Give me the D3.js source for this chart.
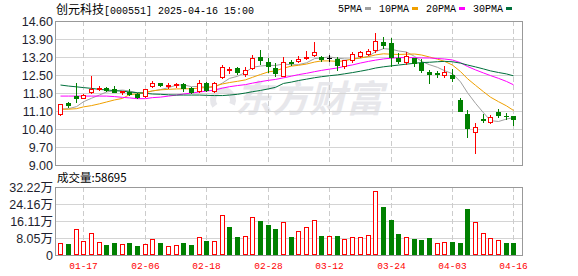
<!DOCTYPE html>
<html><head><meta charset="utf-8">
<script src="https://cdn.jsdelivr.net/npm/d3@7"></script>
<style>html,body{margin:0;padding:0;background:#fff;}svg{display:block}</style>
</head><body><svg id="c" width="578" height="276"></svg>
<script>
// ---------- data ----------
const dates = ["01-14","01-15","01-16","01-17","01-20","01-21","01-22","01-23","01-24","01-27",
"02-05","02-06","02-07","02-10","02-11","02-12","02-13","02-14","02-17","02-18","02-19","02-20","02-21","02-24","02-25","02-26","02-27","02-28",
"03-03","03-04","03-05","03-06","03-07","03-10","03-11","03-12","03-13","03-14","03-17","03-18","03-19","03-20","03-21","03-24","03-25","03-26","03-27","03-28","03-31",
"04-01","04-02","04-03","04-07","04-08","04-09","04-10","04-11","04-14","04-15","04-16"];
const opens  = [10.97,11.40,11.68,11.62,11.85,11.97,12.01,11.96,11.83,11.85,11.77,11.68,12.07,12.19,12.08,12.12,12.15,11.98,11.88,12.19,11.86,12.41,12.70,12.78,12.53,12.76,13.21,13.01,12.76,12.47,13.01,13.06,13.17,13.28,13.19,13.15,13.12,12.84,13.09,13.23,13.32,13.48,13.77,13.76,13.17,13.02,13.15,12.98,12.62,12.57,12.49,12.51,11.53,10.97,10.27,10.77,10.68,11.07,10.92,10.91];
const highs  = [11.38,11.46,12.20,11.75,12.46,12.07,12.05,12.07,11.88,11.94,11.80,11.95,12.27,12.20,12.17,12.20,12.20,12.03,12.31,12.23,12.21,12.89,12.82,12.82,12.82,13.28,13.47,13.15,12.96,13.19,13.08,13.24,13.43,13.79,13.24,13.27,13.19,13.08,13.38,13.43,13.52,14.13,13.97,13.94,13.34,13.38,13.16,13.11,12.71,12.67,12.85,12.72,11.59,11.14,10.65,10.98,10.94,11.18,11.04,10.91];
const lows   = [10.94,11.27,11.46,11.60,11.81,11.90,11.89,11.84,11.78,11.73,11.62,11.64,12.02,12.07,12.00,12.04,11.89,11.80,11.84,11.86,11.82,12.37,12.59,12.54,12.46,12.72,12.92,12.63,12.47,12.47,12.89,13.02,13.11,13.24,13.06,13.03,12.71,12.77,12.99,13.20,13.27,13.39,13.55,12.85,12.98,12.93,12.86,12.63,12.20,12.41,12.43,12.27,11.11,10.10,9.48,10.69,10.62,10.88,10.79,10.56];
const closes = [11.37,11.33,11.62,11.72,11.94,12.00,11.92,11.85,11.86,11.75,11.66,11.94,12.19,12.12,12.13,12.16,11.98,11.84,12.19,11.92,12.18,12.82,12.73,12.60,12.69,13.15,13.08,12.86,12.57,12.99,12.97,13.13,13.21,13.38,13.14,13.15,12.89,13.07,13.32,13.39,13.45,13.81,13.65,13.20,13.06,13.25,12.96,12.69,12.54,12.55,12.60,12.37,11.11,10.43,10.49,10.75,10.85,10.94,10.90,10.78];
// volume in 万 (10k)
const volumes = [5.54,5.21,12.17,6.63,10.27,6.00,4.74,5.69,5.05,5.69,4.26,5.21,7.42,5.69,4.42,4.74,5.69,4.74,8.53,6.63,6.47,18.80,13.27,8.53,8.85,17.85,16.11,14.21,12.32,15.48,8.53,11.21,13.11,16.42,9.00,8.85,9.00,7.42,8.37,8.37,9.32,30.17,22.74,16.58,10.00,8.53,7.58,7.11,8.05,5.69,6.16,6.16,5.83,21.94,15.64,10.43,8.05,7.11,5.69,5.8695];
const ma5Head  = [11.17,11.19,11.27,11.46];
const ma10Head = [11.17,11.17,11.19,11.26,11.31,11.38,11.45,11.53,11.59];
const ma20Head = [11.68,11.68,11.68,11.68,11.68,11.68,11.68,11.66,11.63,11.61,11.58,11.58,11.62,11.64,11.68,11.72,11.76,11.80,11.84];
const ma30Head = [12.11,12.07,12.04,12.01,11.98,11.94,11.92,11.89,11.87,11.84,11.81,11.79,11.76,11.75,11.73,11.72,11.72,11.72,11.72,11.71,11.70,11.70,11.72,11.75,11.80,11.85,11.90,11.96,12.02];
const priceTicks = [9.00,9.70,10.40,11.10,11.80,12.50,13.20,13.90,14.60];
const volTicks = [0,8.05,16.11,24.16,32.22];
const xTickLabels = ["01-17","02-06","02-18","02-28","03-12","03-24","04-03","04-16"];
const legendNames = ["5PMA","10PMA","20PMA","30PMA"];
const titleName = "创元科技";
const titleCode = "[000551] 2025-04-16 15:00";
const volLabel = "成交量";
const watermark = "东方财富";

// ---------- styles ----------
const RED = "#ff0000", GREEN = "#008000";
const maColors = ["#a0a0a0","#f0a000","#ff00ff","#00703c"];
const gridC = "#d4d4d4", borderC = "#999999";
const L = 55.5, R = 522.5;

const svg = d3.select("#c");
const x = d3.scaleBand().domain(dates).range([56.46, 517.26]);
const cx = d => Math.round(x(d) + x.bandwidth()/2);
const y = d3.scaleLinear().domain([9.00,14.60]).range([165,21]);
const yv = d3.scaleLinear().domain([0,32.22]).range([255,187]);
const px = v => Math.round(v) + 0.5;

// watermark
const wm = svg.append("g").attr("fill","#e7e7eb");
wm.append("path").attr("transform","translate(223,100)")
  .attr("d", d3.arc().innerRadius(7).outerRadius(13).startAngle(-2.2).endAngle(2.0)());
wm.append("text").attr("x",235).attr("y",112).attr("font-family","'Noto Sans CJK SC'")
  .attr("font-weight","bold").attr("font-size",37).attr("font-style","italic").text(watermark);

function panel(ys, top, bot, ticks){
  const g = svg.append("g").attr("shape-rendering","crispEdges");
  g.selectAll(".h").data(ticks).enter().append("line")
    .attr("x1",L).attr("x2",R).attr("y1",d=>px(ys(d))).attr("y2",d=>px(ys(d)))
    .attr("stroke",gridC);
  g.selectAll(".v").data(xTickLabels).enter().append("line")
    .attr("x1",d=>cx(d)+0.5).attr("x2",d=>cx(d)+0.5).attr("y1",top).attr("y2",bot)
    .attr("stroke","#cccccc").attr("stroke-dasharray","5,3");
  g.append("rect").attr("x",L).attr("y",px(top)).attr("width",R-L).attr("height",px(bot)-px(top))
    .attr("fill","none").attr("stroke",borderC);
}
panel(y, 21, 165, priceTicks);
panel(yv, 187, 255, volTicks);

// axis labels
svg.append("g").selectAll("text").data(priceTicks).enter().append("text")
  .attr("x",53).attr("y",d=>y(d)).attr("dy","0.36em").attr("text-anchor","end")
  .attr("font-family","'Liberation Sans',Arial,sans-serif").attr("font-size",12.5).attr("fill","#1e1e2e")
  .text(d=>d.toFixed(2));
svg.append("g").selectAll("text").data(volTicks).enter().append("text")
  .attr("x",53).attr("y",d=>yv(d)).attr("dy","0.36em").attr("text-anchor","end")
  .attr("font-family","'Liberation Sans','Noto Sans CJK SC',sans-serif").attr("font-size",12.5).attr("fill","#1e1e2e")
  .text(d=>d===0?"0":d.toFixed(2)+"万");
svg.append("g").selectAll("text").data(xTickLabels).enter().append("text")
  .attr("x",d=>cx(d)+0.5).attr("y",269).attr("text-anchor","middle")
  .attr("font-family","'Liberation Mono',monospace").attr("font-size",9.5).attr("fill",RED)
  .text(d=>d);

// title
const t = svg.append("text").attr("x",56).attr("y",13.5).attr("fill","#000");
t.append("tspan").attr("font-family","'Noto Sans CJK SC'").attr("font-size",12).text(titleName);
t.append("tspan").attr("font-family","'Liberation Mono',monospace").attr("font-size",10).text(titleCode);

// legend
let lx = 338;
legendNames.forEach((n,i)=>{
  const tx = svg.append("text").attr("x",lx).attr("y",12.3).attr("font-family","'Liberation Mono',monospace")
    .attr("font-size",10).attr("fill","#000").text(n);
  const w = tx.node().getComputedTextLength();
  svg.append("rect").attr("x",Math.round(lx+w+3)).attr("y",7).attr("width",6).attr("height",3)
    .attr("fill",maColors[i]).attr("shape-rendering","crispEdges");
  lx = lx + w + 3 + 6 + 8;
});

// volume label
svg.append("text").attr("x",57).attr("y",182).attr("font-family","'Noto Sans CJK SC'")
  .attr("font-size",11.5).attr("fill","#000").text(volLabel+":"+Math.round(volumes[volumes.length-1]*10000));

// moving averages
function movingAverage(head,n){
  return closes.map((c,i)=> i<head.length ? head[i] : d3.mean(closes.slice(i-n+1,i+1)));
}
const mas = [movingAverage(ma5Head,5),movingAverage(ma10Head,10),movingAverage(ma20Head,20),movingAverage(ma30Head,30)];
const line = d3.line().x((d,i)=>cx(dates[i])+0.5).y(d=>y(d));
mas.forEach((m,i)=>{
  svg.append("path").datum(m).attr("d",line).attr("fill","none").attr("stroke",maColors[i]).attr("stroke-width",1);
});

// candles
const cg = svg.append("g").attr("shape-rendering","crispEdges");
dates.forEach((d,i)=>{
  const o=opens[i], c=closes[i], h=highs[i], l=lows[i];
  const X = cx(d);
  const yo = Math.round(y(o)), yc = Math.round(y(c)), yh = Math.round(y(h)), yl = Math.round(y(l));
  if (c > o) {
    cg.append("line").attr("x1",X+0.5).attr("x2",X+0.5).attr("y1",yh).attr("y2",yc).attr("stroke",RED);
    cg.append("line").attr("x1",X+0.5).attr("x2",X+0.5).attr("y1",yo).attr("y2",yl+1).attr("stroke",RED);
    cg.append("rect").attr("x",X-2+0.5).attr("y",yc+0.5).attr("width",4).attr("height",Math.max(1,yo-yc))
      .attr("fill","#fff").attr("stroke",RED);
  } else if (c < o) {
    cg.append("line").attr("x1",X+0.5).attr("x2",X+0.5).attr("y1",yh).attr("y2",yl+1).attr("stroke",GREEN);
    cg.append("rect").attr("x",X-2).attr("y",yo).attr("width",5).attr("height",Math.max(1,yc-yo+1))
      .attr("fill",GREEN);
  } else {
    cg.append("line").attr("x1",X+0.5).attr("x2",X+0.5).attr("y1",yh).attr("y2",yl+1).attr("stroke","#000");
    cg.append("line").attr("x1",X-2).attr("x2",X+3).attr("y1",yo+0.5).attr("y2",yo+0.5).attr("stroke","#000");
  }
});

// volume bars
const vg = svg.append("g").attr("shape-rendering","crispEdges");
dates.forEach((d,i)=>{
  const up = i===0 ? closes[i]>=opens[i] : closes[i]>=closes[i-1];
  const X = cx(d);
  const top = Math.round(yv(volumes[i]));
  const base = Math.round(yv(0));
  if (up) {
    vg.append("rect").attr("x",X-2+0.5).attr("y",top+0.5).attr("width",4).attr("height",base-top-1)
      .attr("fill","#fff").attr("stroke",RED);
  } else {
    vg.append("rect").attr("x",X-2).attr("y",top).attr("width",5).attr("height",base-top).attr("fill",GREEN);
  }
});
</script></body></html>
